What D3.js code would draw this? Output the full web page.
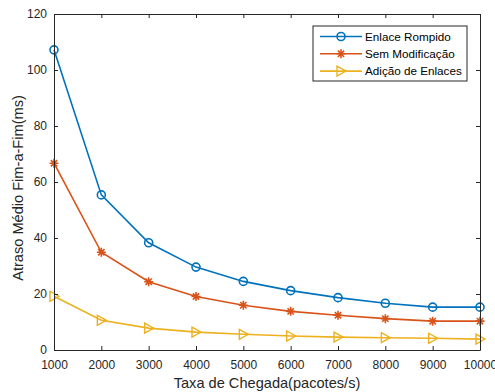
<!DOCTYPE html>
<html>
<head>
<meta charset="utf-8">
<script src="https://cdn.jsdelivr.net/npm/d3@7"></script>
<style>
  body { margin: 0; background: #fff; }
  svg { display: block; font-family: "Liberation Sans", Arial, sans-serif; }
</style>
</head>
<body>
<div id="chart"></div>
<script>
// chart data
const taxas = [1000, 2000, 3000, 4000, 5000, 6000, 7000, 8000, 9000, 10000];
const enlaceRompido = [107.2, 55.4, 38.3, 29.6, 24.5, 21.2, 18.7, 16.7, 15.3, 15.3];
const semModificacao = [66.7, 34.9, 24.4, 19.1, 16.0, 13.8, 12.4, 11.2, 10.3, 10.3];
const adicaoEnlaces = [19.2, 10.6, 7.8, 6.4, 5.6, 5.0, 4.6, 4.4, 4.2, 3.9];
const seriesNames = ["Enlace Rompido", "Sem Modificação", "Adição de Enlaces"];
const yTicks = [0, 20, 40, 60, 80, 100, 120];

const width = 495, height = 392;
const margin = {top: 14, right: 15, bottom: 42, left: 54};
const axisColor = "#262626";

const series = [
  {name: seriesNames[0], values: enlaceRompido, color: "#0072BD", marker: "circle"},
  {name: seriesNames[1], values: semModificacao, color: "#D95319", marker: "star"},
  {name: seriesNames[2], values: adicaoEnlaces, color: "#EDB120", marker: "triangle"}
];

const svg = d3.select("#chart").append("svg")
  .attr("width", width)
  .attr("height", height);

const x = d3.scaleLinear()
  .domain([1000, 10000])
  .range([margin.left, width - margin.right]);

const y = d3.scaleLinear()
  .domain([0, 120])
  .range([height - margin.bottom, margin.top]);

// markers
function drawMarker(g, type, color) {
  if (type === "circle") {
    g.append("circle").attr("r", 4).attr("fill", "none")
      .attr("stroke", color).attr("stroke-width", 1.6);
  } else if (type === "star") {
    const r = 4.5;
    g.append("path")
      .attr("d", `M${-r},0H${r}M0,${-r}V${r}` +
        `M${-r*0.7},${-r*0.7}L${r*0.7},${r*0.7}M${-r*0.7},${r*0.7}L${r*0.7},${-r*0.7}`)
      .attr("stroke", color).attr("stroke-width", 1.6).attr("fill", "none");
  } else {
    g.append("path").attr("d", "M-4,-5L5,0L-4,5Z").attr("fill", "none")
      .attr("stroke", color).attr("stroke-width", 1.4);
  }
}

const line = d3.line()
  .x((d, i) => x(taxas[i]))
  .y(d => y(d));

series.forEach(s => {
  svg.append("path")
    .datum(s.values)
    .attr("fill", "none")
    .attr("stroke", s.color)
    .attr("stroke-width", 1.6)
    .attr("d", line);

  svg.append("g").selectAll("g")
    .data(s.values)
    .join("g")
    .attr("transform", (d, i) => `translate(${x(taxas[i])},${y(d)})`)
    .each(function() { drawMarker(d3.select(this), s.marker, s.color); });
});

// axes (ticks inward, box)
const tickLen = 4;
const plotH = height - margin.bottom - margin.top;
const plotW = width - margin.left - margin.right;

const xAxis = svg.append("g")
  .attr("transform", `translate(0, ${height - margin.bottom})`)
  .call(d3.axisBottom(x).tickValues(taxas).tickFormat(d3.format("d"))
    .tickSizeInner(-tickLen).tickSizeOuter(0).tickPadding(10));

const xAxisTop = svg.append("g")
  .attr("transform", `translate(0, ${margin.top})`)
  .call(d3.axisTop(x).tickValues(taxas).tickFormat("")
    .tickSizeInner(-tickLen).tickSizeOuter(0));

const yAxis = svg.append("g")
  .attr("transform", `translate(${margin.left}, 0)`)
  .call(d3.axisLeft(y).tickValues(yTicks)
    .tickSizeInner(-tickLen).tickSizeOuter(0).tickPadding(7));

const yAxisRight = svg.append("g")
  .attr("transform", `translate(${width - margin.right}, 0)`)
  .call(d3.axisRight(y).tickValues(yTicks).tickFormat("")
    .tickSizeInner(-tickLen).tickSizeOuter(0));

[xAxis, xAxisTop, yAxis, yAxisRight].forEach(a => {
  a.select(".domain").attr("stroke", axisColor).attr("stroke-width", 1);
  a.selectAll(".tick line").attr("stroke", axisColor);
  a.selectAll(".tick text")
    .attr("fill", axisColor)
    .style("font-family", "Liberation Sans, Arial, sans-serif")
    .style("font-size", "12px");
});

// axis titles
svg.append("text")
  .attr("x", margin.left + plotW / 2)
  .attr("y", 388)
  .attr("text-anchor", "middle")
  .attr("fill", axisColor)
  .style("font-size", "14.6px")
  .text("Taxa de Chegada(pacotes/s)");

svg.append("text")
  .attr("transform", `translate(23, 188) rotate(-90)`)
  .attr("text-anchor", "middle")
  .attr("fill", axisColor)
  .style("font-size", "14.6px")
  .text("Atraso Médio Fim-a-Fim(ms)");

// legend
const legend = svg.append("g").attr("transform", "translate(313, 26)");
legend.append("rect")
  .attr("width", 154).attr("height", 55)
  .attr("fill", "#fff").attr("stroke", axisColor).attr("stroke-width", 1);

series.forEach((s, i) => {
  const row = legend.append("g").attr("transform", `translate(0, ${10.5 + i * 17.3})`);
  row.append("line")
    .attr("x1", 7).attr("x2", 49)
    .attr("stroke", s.color).attr("stroke-width", 1.6);
  drawMarker(row.append("g").attr("transform", "translate(28,0)"), s.marker, s.color);
  row.append("text")
    .attr("x", 52).attr("dy", "0.35em")
    .attr("fill", "#000")
    .style("font-size", "11.7px")
    .text(s.name);
});
</script>
</body>
</html>
